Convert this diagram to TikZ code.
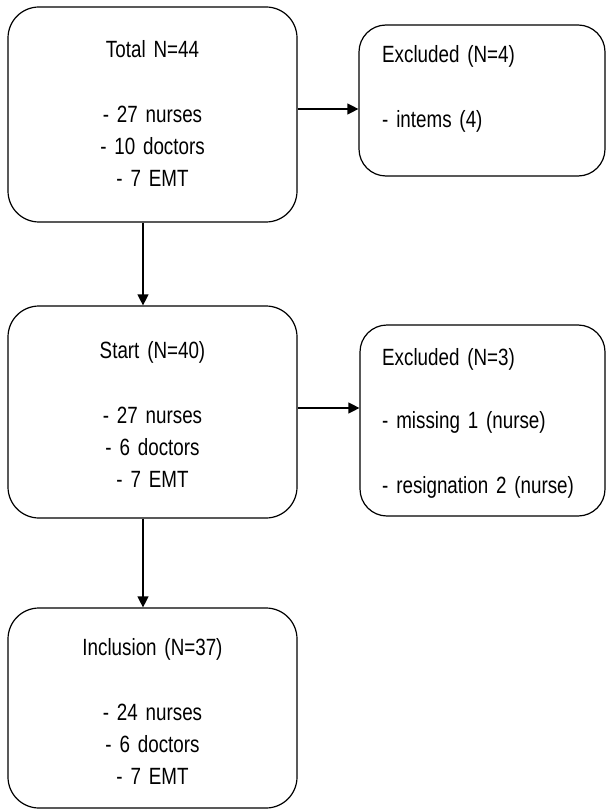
\documentclass[tikz,border=0pt]{standalone}
\usepackage{fontspec}
\setmainfont{Liberation Sans}[FakeStretch=0.8]
\usetikzlibrary{arrows.meta}
\newcommand\diagfont{\fontsize{23.5}{32}\selectfont\spaceskip=5pt plus 1pt minus 1pt\relax}
\begin{document}
\begin{tikzpicture}[x=1pt,y=-1pt,
  boxL/.style={draw=black, line width=1.2pt, rounded corners=31pt, inner sep=0pt},
  boxR/.style={draw=black, line width=1.2pt, rounded corners=27pt, inner sep=0pt},
  txtC/.style={inner sep=0pt, text width=270pt, align=center, anchor=base,
    font=\diagfont},
  txtL/.style={inner sep=0pt, text width=220pt, align=left, anchor=base west,
    font=\diagfont},
  arr/.style={line width=1.2pt, -{Triangle[length=11pt,width=11pt]}}]
\useasboundingbox (0,0) rectangle (607,810);
% boxes
\node[boxL, minimum width=289pt, minimum height=215pt] (b1) at (152.5,114.5) {};
\node[boxR, minimum width=246pt, minimum height=151pt] (b2) at (482,100.5) {};
\node[boxL, minimum width=289pt, minimum height=212pt] (b3) at (152.5,412) {};
\node[boxR, minimum width=245pt, minimum height=191pt] (b4) at (482.5,420.5) {};
\node[boxL, minimum width=289pt, minimum height=200pt] (b5) at (152.5,708) {};
% texts
\node[txtC] (t1) at (152.5,58) {Total N=44\\[33pt]- 27 nurses\\- 10 doctors\\- 7 EMT};
\node[txtL] (t2) at (382,63) {Excluded (N=4)\\[33pt]- intems (4)};
\node[txtC] (t3) at (152.5,358) {Start (N=40)\\[33pt]- 27 nurses\\- 6 doctors\\- 7 EMT};
\node[txtL] (t4) at (382,365) {Excluded (N=3)\\[31pt]- missing 1 (nurse)\\[33pt]- resignation 2 (nurse)};
\node[txtC] (t5) at (152.5,655) {Inclusion (N=37)\\[33pt]- 24 nurses\\- 6 doctors\\- 7 EMT};
% connector guides
\coordinate (v) at (143,0);
\coordinate (h1) at (0,109);
\coordinate (h2) at (0,408);
% connectors
\draw[arr] (b1.south -| v) -- (b3.north -| v);
\draw[arr] (b3.south -| v) -- (b5.north -| v);
\draw[arr] (b1.east |- h1) -- (b2.west |- h1);
\draw[arr] (b3.east |- h2) -- (b4.west |- h2);
\end{tikzpicture}
\end{document}
